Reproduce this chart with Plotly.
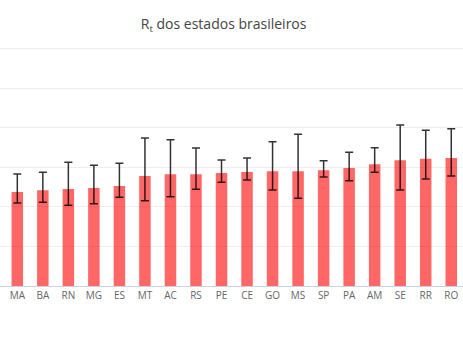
import plotly.graph_objects as go

states = ["MA", "BA", "RN", "MG", "ES", "MT", "AC", "RS", "PE", "CE", "GO", "MS",
          "SP", "PA", "AM", "SE", "RR", "RO"]
rt = [1.190, 1.211, 1.228, 1.241, 1.266, 1.392, 1.414, 1.414, 1.430, 1.443, 1.452, 1.452,
      1.465, 1.494, 1.541, 1.591, 1.611, 1.620]
rt_upper = [1.418, 1.439, 1.566, 1.528, 1.553, 1.873, 1.852, 1.747, 1.595, 1.620, 1.827, 1.920,
            1.586, 1.692, 1.751, 2.038, 1.971, 1.991]
rt_lower = [1.051, 1.059, 1.021, 1.042, 1.123, 1.080, 1.130, 1.224, 1.313, 1.342, 1.215, 1.110,
            1.380, 1.333, 1.439, 1.215, 1.354, 1.392]

err_plus = [u - v for u, v in zip(rt_upper, rt)]
err_minus = [v - l for v, l in zip(rt, rt_lower)]

fig = go.Figure(go.Bar(
    x=states,
    y=rt,
    marker=dict(color="rgba(255,0,0,0.6)", line=dict(width=0)),
    error_y=dict(type="data", symmetric=False, array=err_plus, arrayminus=err_minus,
                 color="rgba(0,0,0,0.8)", thickness=1.5, width=4),
))

fig.update_layout(
    width=463, height=348,
    margin=dict(l=0, r=0, t=45, b=62),
    paper_bgcolor="white", plot_bgcolor="white",
    bargap=0.55,
    showlegend=False,
    font=dict(family="Open Sans", color="#444"),
    title=dict(text="R<sub>t</sub> dos estados brasileiros", x=0.483, xanchor="center",
               y=0.93, yanchor="middle", font=dict(size=14, color="#444")),
    xaxis=dict(range=[-0.678, 17.46], showgrid=False, showline=True, linecolor="#c8d4e3",
               linewidth=1, ticks="", tickfont=dict(size=10, color="#666")),
    yaxis=dict(range=[0, 3.05], dtick=0.5, showticklabels=False, gridcolor="#eeeeee",
               zeroline=False, fixedrange=True),
)

fig.write_html("out.html")
